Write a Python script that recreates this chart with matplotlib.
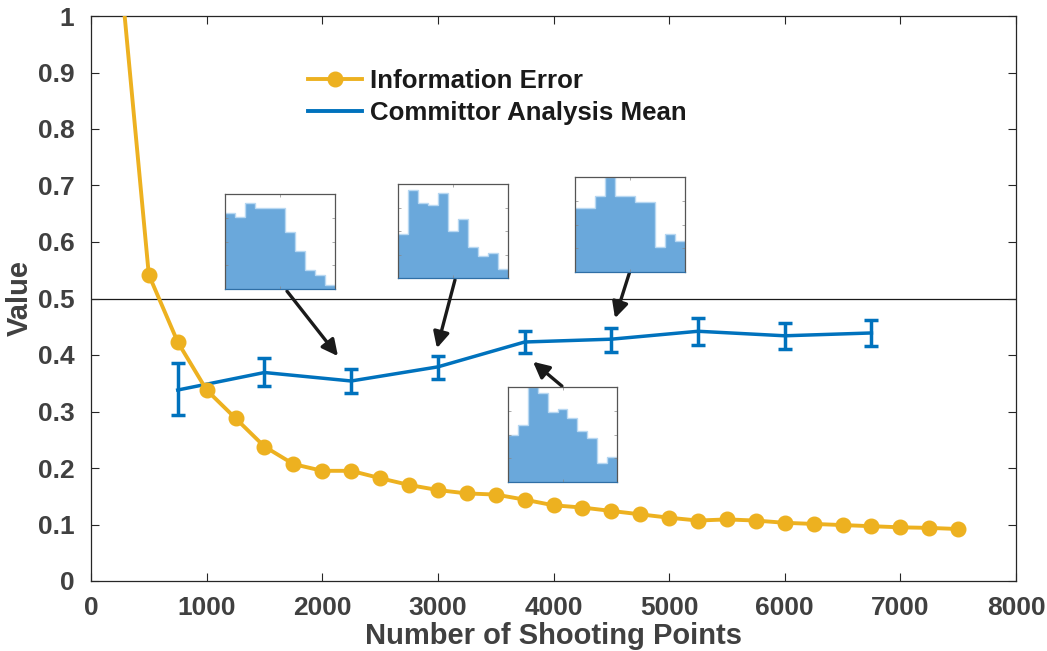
import numpy as np
import matplotlib
matplotlib.use('Agg')
import matplotlib.pyplot as plt
from matplotlib.lines import Line2D

plt.rcParams['font.family'] = ['Liberation Sans', 'DejaVu Sans']
plt.rcParams['font.weight'] = 'bold'

# information error vs. number of shooting points
n_info = np.arange(250, 7501, 250)
info_err = [1.09, 0.542, 0.423, 0.338, 0.288, 0.238, 0.207, 0.195, 0.195, 0.182,
            0.170, 0.161, 0.155, 0.153, 0.144, 0.134, 0.130, 0.124, 0.118, 0.112,
            0.107, 0.109, 0.107, 0.103, 0.101, 0.099, 0.097, 0.095, 0.094, 0.092]

# committor analysis mean with spread
n_comm = np.arange(750, 6751, 750)
comm_mean = [0.338, 0.369, 0.354, 0.379, 0.423, 0.428, 0.442, 0.434, 0.439]
comm_hi = [0.385, 0.394, 0.376, 0.399, 0.442, 0.448, 0.465, 0.456, 0.462]
comm_lo = [0.294, 0.345, 0.332, 0.358, 0.403, 0.406, 0.418, 0.410, 0.416]

# committor histograms (normalised bin heights, 11 bins each)
hist_a = [0.802, 0.753, 0.905, 0.852, 0.852, 0.852, 0.601, 0.399, 0.198, 0.145, 0.042]
hist_b = [0.467, 0.937, 0.800, 0.772, 0.902, 0.498, 0.632, 0.330, 0.232, 0.263, 0.095]
hist_c = [0.669, 0.669, 0.803, 1.000, 0.803, 0.803, 0.732, 0.732, 0.261, 0.398, 0.327]
hist_d = [0.496, 0.599, 1.000, 0.937, 0.736, 0.768, 0.669, 0.532, 0.465, 0.197, 0.261]

# inset boxes in pixels (left, top, right, bottom) and arrows (tail -> head, data units)
W, H = 1047, 651
inset_px = [(225, 194, 335, 289), (398, 184, 508, 278),
            (575, 177, 685, 272), (508, 387, 617, 482)]
arrows = [((1695, 0.513), (2136, 0.398)), ((3148, 0.533), (2992, 0.412)),
          ((4662, 0.549), (4532, 0.465)), ((4073, 0.345), (3823, 0.388))]

blue = '#0072BD'
yellow = '#EDB120'
axcol = '#262626'
txtcol = '#404040'

fig = plt.figure(figsize=(W / 100, H / 100), dpi=100)
ax = fig.add_axes([91 / W, 1 - 581 / H, 925 / W, 565 / H])

ax.axhline(0.5, color='#1a1a1a', lw=0.9, zorder=1)

ax.errorbar(n_comm, comm_mean,
            yerr=[np.array(comm_mean) - np.array(comm_lo), np.array(comm_hi) - np.array(comm_mean)],
            color=blue, lw=2.5, elinewidth=2.5, capsize=4.8, capthick=2.5, zorder=3)
ax.plot(n_info, info_err, '-o', color=yellow, lw=2.8, ms=10.5, zorder=4)

ax.set_xlim(0, 8000)
ax.set_ylim(0, 1)
ax.set_xticks(np.arange(0, 8001, 1000))
ax.set_yticks(np.arange(0, 1.01, 0.1))
ax.set_yticklabels(['%g' % round(v, 1) for v in np.arange(0, 1.01, 0.1)])
ax.tick_params(direction='in', length=6, width=0.8, color=axcol, top=True, right=True,
               labelsize=19, labelcolor=txtcol)
ax.tick_params(axis='y', pad=12)
ax.tick_params(axis='x', pad=11)
for lab in ax.get_xticklabels() + ax.get_yticklabels():
    lab.set_fontweight('bold')
for s in ax.spines.values():
    s.set_color(axcol)
    s.set_linewidth(0.9)

ax.set_xlabel('Number of Shooting Points', fontsize=21, fontweight='bold', color=txtcol)
ax.xaxis.label.set_va('bottom')
ax.xaxis.set_label_coords(0.5, (581 - 650) / 565)
ax.set_ylabel('Value', fontsize=21, fontweight='bold', color=txtcol, labelpad=3)

leg_handles = [Line2D([], [], color=yellow, lw=2.8, marker='o', ms=10.5),
               Line2D([], [], color=blue, lw=2.8)]
leg = ax.legend(leg_handles, ['Information Error', 'Committor Analysis Mean'],
                loc='upper left', bbox_to_anchor=(0.223, 0.925),
                frameon=False, fontsize=18.6, handlelength=2.1, handletextpad=0.3,
                labelspacing=0.32, borderaxespad=0)
for t in leg.get_texts():
    t.set_fontweight('bold')
    t.set_color('#1a1a1a')

for (tail, head) in arrows:
    ax.annotate('', xy=head, xytext=tail,
                arrowprops=dict(arrowstyle='-|>', color='#1a1a1a', lw=2.4,
                                mutation_scale=24, shrinkA=0, shrinkB=0),
                zorder=5)

for box, h in zip(inset_px, [hist_a, hist_b, hist_c, hist_d]):
    l, t, r, b = box
    iax = fig.add_axes([l / W, 1 - b / H, (r - l) / W, (b - t) / H])
    edges = np.arange(len(h) + 1)
    iax.stairs(h, edges, fill=True, color='#6aa8db')
    iax.stairs(h, edges, color='#b8d8f2', lw=1.0, baseline=None)
    iax.set_xlim(0, len(h))
    iax.set_ylim(0, 1)
    iax.set_xticks([len(h) / 2])
    iax.set_yticks([0.25, 0.5, 0.75])
    iax.tick_params(direction='in', length=2, width=0.5, color='#888888', top=True, right=True,
                    labelbottom=False, labelleft=False)
    for s in iax.spines.values():
        s.set_color('#555555')
        s.set_linewidth(0.9)
    iax.spines['bottom'].set_color('#2f6fa6')

fig.savefig('out.png', dpi=100)
